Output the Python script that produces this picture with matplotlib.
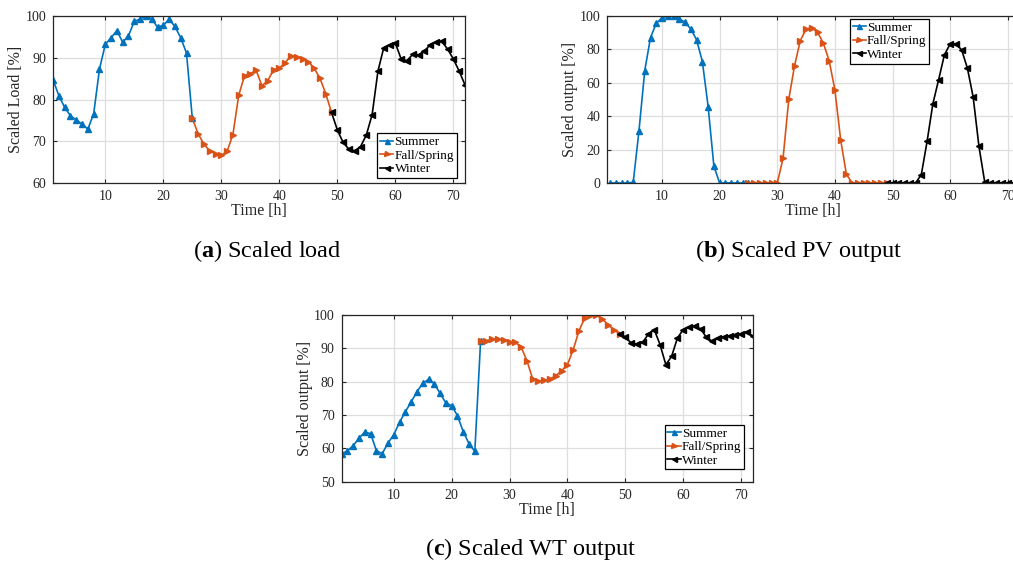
import numpy as np
import matplotlib
matplotlib.use("Agg")
import matplotlib.pyplot as plt

plt.rcParams["font.family"] = ["Liberation Serif", "DejaVu Serif"]
plt.rcParams["mathtext.fontset"] = "custom"
plt.rcParams["mathtext.rm"] = "Liberation Serif"
plt.rcParams["mathtext.bf"] = "Liberation Serif:bold"

# hourly profiles, three representative days of 24 h each
load_summer = [84.7, 80.9, 78.1, 76.1, 75.1, 74.1, 72.9, 76.6, 87.3, 93.2, 94.8, 96.5,
               93.7, 95.3, 98.7, 99.3, 100.0, 99.3, 97.3, 97.8, 99.2, 97.5, 94.8, 91.1]
load_fall = [75.5, 71.8, 69.3, 67.7, 67.0, 66.6, 67.6, 71.6, 81.0, 85.7, 86.2, 87.0,
             83.3, 84.5, 87.1, 87.5, 88.8, 90.5, 90.1, 89.7, 89.1, 87.5, 85.1, 81.4]
load_winter = [76.9, 72.7, 69.7, 68.1, 67.7, 68.7, 71.5, 76.4, 86.8, 92.4, 93.1, 93.5,
               89.7, 89.3, 90.8, 90.7, 91.6, 93.1, 93.7, 93.9, 92.1, 89.7, 86.8, 83.5]

pv_summer = [0, 0, 0, 0, 0.4, 31.3, 67.3, 87.1, 95.6, 99.0, 100.0, 99.8,
             98.4, 96.2, 92.2, 85.7, 72.7, 45.8, 10.0, 0, 0, 0, 0, 0]
pv_fall = [0, 0, 0, 0, 0, 0, 14.7, 50.2, 70.3, 85.3, 92.2, 93.0,
           90.2, 83.7, 73.3, 55.8, 25.9, 5.2, 0, 0, 0, 0, 0, 0]
pv_winter = [0, 0, 0, 0, 0, 0, 5.0, 24.9, 47.4, 61.8, 76.7, 83.3,
             83.3, 79.7, 68.7, 51.4, 21.9, 0.6, 0, 0, 0, 0, 0, 0]

wt_summer = [58.3, 59.3, 60.8, 63.1, 64.9, 64.4, 59.3, 58.4, 61.6, 64.1, 67.8, 71.0,
             73.9, 77.0, 79.5, 80.7, 79.4, 76.5, 73.6, 72.8, 69.8, 65.0, 61.4, 59.1]
wt_fall = [92.2, 92.3, 92.7, 92.9, 92.4, 91.8, 91.8, 90.4, 86.3, 80.8, 80.1, 80.4,
           80.8, 81.8, 83.3, 85.1, 89.6, 95.3, 99.1, 100.0, 99.9, 98.9, 97.1, 95.6]
wt_winter = [94.4, 93.4, 91.6, 91.3, 91.8, 94.3, 95.6, 91.1, 85.1, 87.6, 93.1, 95.6,
             96.4, 96.6, 95.9, 93.3, 92.1, 93.1, 93.5, 93.8, 94.1, 94.3, 94.9, 93.7]

season_names = ["Summer", "Fall/Spring", "Winter"]
season_colors = ["#0072BD", "#D95319", "#000000"]
season_markers = ["^", ">", "<"]

FG = "#262626"


def draw_panel(ax, summer, fall, winter, ylabel, ylim, yticks, xlim, legend_anchor, legend_loc):
    hours_s = np.arange(1, 26)
    hours_f = np.arange(25, 50)
    hours_w = np.arange(49, 73)
    # each day is joined to the first hour of the next one
    series = [
        (hours_s, list(summer) + [fall[0]]),
        (hours_f, list(fall) + [winter[0]]),
        (hours_w, list(winter)),
    ]
    for (h, v), name, col, mk in zip(series, season_names, season_colors, season_markers):
        ax.plot(h, v, color=col, marker=mk, markersize=4.5, linewidth=1.2, label=name)

    ax.set_xlim(*xlim)
    ax.set_ylim(*ylim)
    ax.set_xticks(np.arange(10, 71, 10))
    ax.set_yticks(yticks)
    ax.grid(True, color="#dedede", linewidth=0.9)
    ax.set_axisbelow(True)
    for s in ax.spines.values():
        s.set_color(FG)
        s.set_linewidth(0.9)
    ax.tick_params(direction="in", length=3, width=0.8, colors=FG, labelsize=10,
                   top=True, right=True, pad=5)
    ax.set_xlabel("Time [h]", fontsize=11.5, color=FG, labelpad=0)
    ax.set_ylabel(ylabel, fontsize=11.5, color=FG, labelpad=1)

    leg = ax.legend(loc=legend_loc, bbox_to_anchor=legend_anchor, borderaxespad=0,
                    fontsize=9.5, handlelength=1.0, handletextpad=0.1, borderpad=0.2,
                    labelspacing=0.1, fancybox=False, framealpha=1, edgecolor="black",
                    markerscale=0.8)
    leg.get_frame().set_linewidth(0.9)


fig = plt.figure(figsize=(10.13, 5.62), dpi=100)

ax_a = fig.add_axes([0.0524, 0.6744, 0.4066, 0.2971])
draw_panel(ax_a, load_summer, load_fall, load_winter, "Scaled Load [%]",
           (60, 100), np.arange(60, 101, 10), (1, 72), (0.98, 0.03), "lower right")

ax_b = fig.add_axes([0.5995, 0.6744, 0.4067, 0.2971])
draw_panel(ax_b, pv_summer, pv_fall, pv_winter, "Scaled output [%]",
           (0, 100), np.arange(0, 101, 20), (0.5, 72), (0.589, 0.982), "upper left")

ax_c = fig.add_axes([0.3373, 0.1429, 0.4057, 0.2966])
draw_panel(ax_c, wt_summer, wt_fall, wt_winter, "Scaled output [%]",
           (50, 100), np.arange(50, 101, 10), (1, 72), (0.979, 0.074), "lower right")

fig.text(267 / 1013, 1 - 251 / 562, r"($\mathbf{a}$) Scaled load", ha="center", va="center", fontsize=17.5)
fig.text(799 / 1013, 1 - 251 / 562, r"($\mathbf{b}$) Scaled PV output", ha="center", va="center", fontsize=17.5)
fig.text(531 / 1013, 1 - 549 / 562, r"($\mathbf{c}$) Scaled WT output", ha="center", va="center", fontsize=17.5)

fig.savefig("out.png", dpi=100)
